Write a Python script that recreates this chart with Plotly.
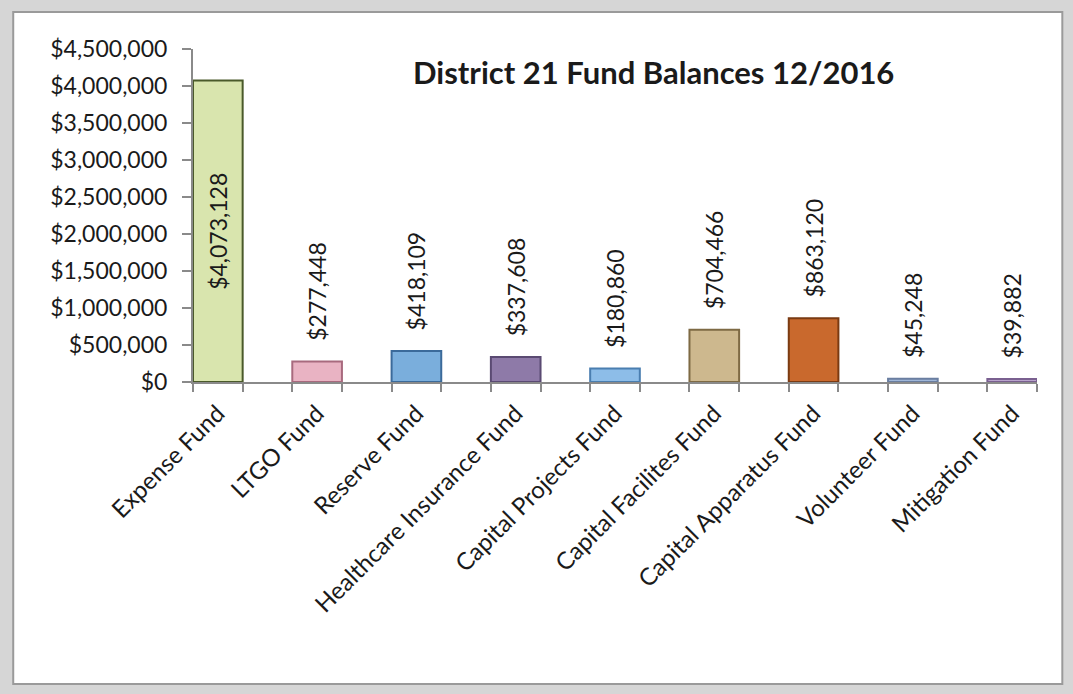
import plotly.graph_objects as go

funds = ["Expense Fund", "LTGO Fund", "Reserve Fund", "Healthcare Insurance Fund",
         "Capital Projects Fund", "Capital Facilites Fund", "Capital Apparatus Fund",
         "Volunteer Fund", "Mitigation Fund"]
balances = [4073128, 277448, 418109, 337608, 180860, 704466, 863120, 45248, 39882]
bar_colors = ["#d9e5ae", "#e9b3c3", "#7aaedc", "#8e7aa8", "#8dbde8",
              "#cdb88e", "#c9692d", "#9fb6d8", "#b9a3cc"]
edge_colors = ["#4a5a2a", "#a86a7e", "#3b6a9a", "#5a4a72", "#4a7eb0",
               "#7e6a44", "#7a3a12", "#6a7ea0", "#7a6090"]
y_ticks = list(range(0, 4500001, 500000))

positions = list(range(len(funds)))
# first label sits inside the tall bar, the rest above their bars with a small gap
labels = ["${:,}".format(balances[0])] + \
         ["\u00a0\u00a0\u00a0${:,}".format(v) for v in balances[1:]]
text_pos = ["inside"] + ["outside"] * (len(funds) - 1)

font = "Lato, 'Open Sans', sans-serif"

fig = go.Figure()
fig.add_trace(go.Bar(
    x=positions,
    y=balances,
    width=0.5,
    marker=dict(color=bar_colors, line=dict(color=edge_colors, width=2)),
    text=labels,
    textposition=text_pos,
    insidetextanchor="middle",
    textangle=-90,
    textfont=dict(family=font, size=23, color="#1a1a1a"),
    cliponaxis=False,
    showlegend=False,
))

fig.update_layout(
    width=1073,
    height=694,
    margin=dict(l=193, r=36, t=49, b=312),
    paper_bgcolor="#d6d6d6",
    plot_bgcolor="white",
    font=dict(family=font, color="#1a1a1a"),
    uniformtext=dict(minsize=23, mode="show"),
    shapes=[dict(type="rect", xref="paper", yref="paper", layer="below",
                 x0=-0.213, x1=1.03, y0=-0.907, y1=1.111,
                 fillcolor="white", line=dict(color="#9a9a9a", width=2))],
    annotations=[dict(text="<b>District 21 Fund Balances 12/2016</b>",
                      xref="paper", yref="paper", x=0.546, y=0.93,
                      yanchor="middle", showarrow=False,
                      font=dict(family=font, size=31, color="#1a1a1a"))],
)

fig.update_xaxes(
    range=[-0.25, 8.25],
    tickmode="array",
    tickvals=positions,
    ticktext=funds,
    tickangle=-45,
    ticks="",
    ticklabelstandoff=6,
    tickfont=dict(family=font, size=24, color="#1a1a1a"),
    showline=True,
    linecolor="#8a8a8a",
    linewidth=2,
    showgrid=False,
    zeroline=False,
    minor=dict(tick0=0.25, dtick=0.5, ticks="outside", ticklen=8,
               tickcolor="#8a8a8a", tickwidth=1.5, showgrid=False),
)

fig.update_yaxes(
    range=[0, 4500000],
    tickmode="array",
    tickvals=y_ticks,
    tickformat="$,.0f",
    ticks="outside",
    ticklen=9,
    tickcolor="#8a8a8a",
    tickwidth=1.5,
    ticklabelstandoff=10,
    tickfont=dict(family=font, size=23, color="#1a1a1a"),
    showline=True,
    linecolor="#8a8a8a",
    linewidth=2,
    showgrid=False,
    zeroline=False,
)

fig.write_html("out.html", config={"displayModeBar": False},
               post_script="document.body.style.margin = '0';")
